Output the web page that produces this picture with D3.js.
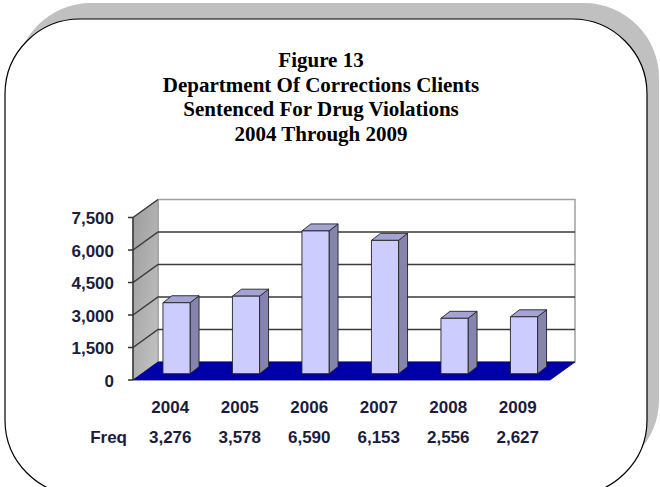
<!DOCTYPE html>
<html>
<head>
<meta charset="utf-8">
<script src="https://cdn.jsdelivr.net/npm/d3@7"></script>
<style>
  body { margin: 0; background: #fff; }
  svg { display: block; }
</style>
</head>
<body>
<div id="chart"></div>
<script>
const years = ["2004", "2005", "2006", "2007", "2008", "2009"];
const freq = [3276, 3578, 6590, 6153, 2556, 2627];
const yTicks = [0, 1500, 3000, 4500, 6000, 7500];
const titleLines = [
  "Figure 13",
  "Department Of Corrections Clients",
  "Sentenced For Drug Violations",
  "2004 Through 2009"
];

const width = 660;
const height = 487;
const depthX = 25, depthY = -18; // 3d offset of the floor / side wall
const barPlane = 0.35;           // where the bar front sits inside the depth
const barDX = 9, barDY = -7;     // bar side thickness

const svg = d3.select("#chart").append("svg")
  .attr("width", width)
  .attr("height", height);

// rounded frame with shadow up-right
svg.append("rect")
  .attr("x", 16).attr("y", 3)
  .attr("width", 643).attr("height", 472)
  .attr("rx", 75).attr("ry", 75)
  .attr("fill", "#c0c0c0");
svg.append("rect")
  .attr("x", 5).attr("y", 19)
  .attr("width", 642).attr("height", 476)
  .attr("rx", 75).attr("ry", 75)
  .attr("fill", "#fff")
  .attr("stroke", "#000")
  .attr("stroke-width", 1.2);

// title
svg.append("g")
  .selectAll("text")
  .data(titleLines)
  .join("text")
  .attr("x", 321)
  .attr("y", (d, i) => 67 + i * 24.5)
  .attr("text-anchor", "middle")
  .attr("font-family", "'Liberation Serif', 'Times New Roman', serif")
  .attr("font-weight", "bold")
  .attr("font-size", "21px")
  .attr("fill", "#000")
  .text(d => d);

// scales (front plane)
const x = d3.scaleBand()
  .domain(years)
  .range([133, 550])
  .paddingInner(0.61)
  .paddingOuter(0.305);

const y = d3.scaleLinear()
  .domain([0, 7500])
  .range([380, 217.5]);

const defs = svg.append("defs");
const grad = defs.append("linearGradient")
  .attr("id", "wallGrad")
  .attr("x1", 0).attr("y1", 0).attr("x2", 1).attr("y2", 1);
grad.append("stop").attr("offset", "0%").attr("stop-color", "#9c9c9c");
grad.append("stop").attr("offset", "100%").attr("stop-color", "#c4c4c4");

const x0 = x.range()[0], x1 = x.range()[1];
const y0 = y(0), yTop = y(7500);

// back wall
svg.append("rect")
  .attr("x", x0 + depthX).attr("y", yTop + depthY)
  .attr("width", x1 - x0).attr("height", y0 - yTop)
  .attr("fill", "#fff")
  .attr("stroke", "#a0a0a0")
  .attr("stroke-width", 1.5);

// side wall
svg.append("path")
  .attr("d", `M${x0},${y0}L${x0},${yTop}L${x0 + depthX},${yTop + depthY}L${x0 + depthX},${y0 + depthY}Z`)
  .attr("fill", "url(#wallGrad)")
  .attr("stroke", "#9a9a9a")
  .attr("stroke-width", 1);

// gridlines on side wall and back wall
const grid = svg.append("g");
grid.selectAll("path.side")
  .data(yTicks.slice(1, -1))
  .join("path")
  .attr("d", d => `M${x0},${y(d)}L${x0 + depthX},${y(d) + depthY}L${x1 + depthX},${y(d) + depthY}`)
  .attr("fill", "none")
  .attr("stroke", "#3a3a3a")
  .attr("stroke-width", 1.5);
grid.append("path")
  .attr("d", `M${x0},${yTop}L${x0 + depthX},${yTop + depthY}`)
  .attr("stroke", "#3a3a3a")
  .attr("stroke-width", 1.5);

// floor
svg.append("path")
  .attr("d", `M${x0},${y0}L${x0 + depthX},${y0 + depthY}L${x1 + depthX},${y0 + depthY}L${x1},${y0}Z`)
  .attr("fill", "#0000a8")
  .attr("stroke", "#00007a")
  .attr("stroke-width", 0.8);

// front axis line and ticks
const axisG = svg.append("g");
axisG.append("line")
  .attr("x1", x0).attr("x2", x0)
  .attr("y1", y0).attr("y2", yTop)
  .attr("stroke", "#333")
  .attr("stroke-width", 1.5);
axisG.selectAll("line.tick")
  .data(yTicks)
  .join("line")
  .attr("x1", x0 - 5).attr("x2", x0)
  .attr("y1", d => y(d)).attr("y2", d => y(d))
  .attr("stroke", "#333")
  .attr("stroke-width", 1.5);
axisG.selectAll("text")
  .data(yTicks)
  .join("text")
  .attr("x", 114)
  .attr("y", d => y(d) + 1)
  .attr("dy", "0.35em")
  .attr("text-anchor", "end")
  .attr("font-family", "'Liberation Sans', Arial, sans-serif")
  .attr("font-weight", "bold")
  .attr("font-size", "17px")
  .attr("fill", "#1c1c3c")
  .text(d => d3.format(",")(d));

// 3d bars
const offX = barPlane * depthX, offY = barPlane * depthY;
const bw = x.bandwidth();
const bars = svg.append("g")
  .selectAll("g")
  .data(years.map((yr, i) => ({ yr, v: freq[i] })))
  .join("g")
  .attr("stroke", "#222")
  .attr("stroke-width", 0.9)
  .attr("stroke-linejoin", "round");

bars.append("path") // side
  .attr("fill", "#8484ac")
  .attr("d", d => {
    const bx = x(d.yr) + offX + bw, top = y(d.v) + offY, bot = y0 + offY;
    return `M${bx},${top}L${bx + barDX},${top + barDY}L${bx + barDX},${bot + barDY}L${bx},${bot}Z`;
  });
bars.append("path") // top
  .attr("fill", "#a4a4d4")
  .attr("d", d => {
    const bx = x(d.yr) + offX, top = y(d.v) + offY;
    return `M${bx},${top}L${bx + barDX},${top + barDY}L${bx + bw + barDX},${top + barDY}L${bx + bw},${top}Z`;
  });
bars.append("rect") // front
  .attr("fill", "#ccccff")
  .attr("x", d => x(d.yr) + offX)
  .attr("y", d => y(d.v) + offY)
  .attr("width", bw)
  .attr("height", d => y0 - y(d.v));

// data table below: years and freq
const table = svg.append("g")
  .attr("font-family", "'Liberation Sans', Arial, sans-serif")
  .attr("font-weight", "bold")
  .attr("font-size", "17px")
  .attr("fill", "#1c1c3c")
  .attr("text-anchor", "middle");

table.selectAll("text.yr")
  .data(years)
  .join("text")
  .attr("class", "yr")
  .attr("x", d => x(d) + bw / 2 + 2.5)
  .attr("y", 413)
  .text(d => d);

table.selectAll("text.fr")
  .data(freq)
  .join("text")
  .attr("class", "fr")
  .attr("x", (d, i) => x(years[i]) + bw / 2 + 2.5)
  .attr("y", 443)
  .text(d => d3.format(",")(d));

table.append("text")
  .attr("x", 127)
  .attr("y", 443)
  .attr("text-anchor", "end")
  .text("Freq");
</script>
</body>
</html>
